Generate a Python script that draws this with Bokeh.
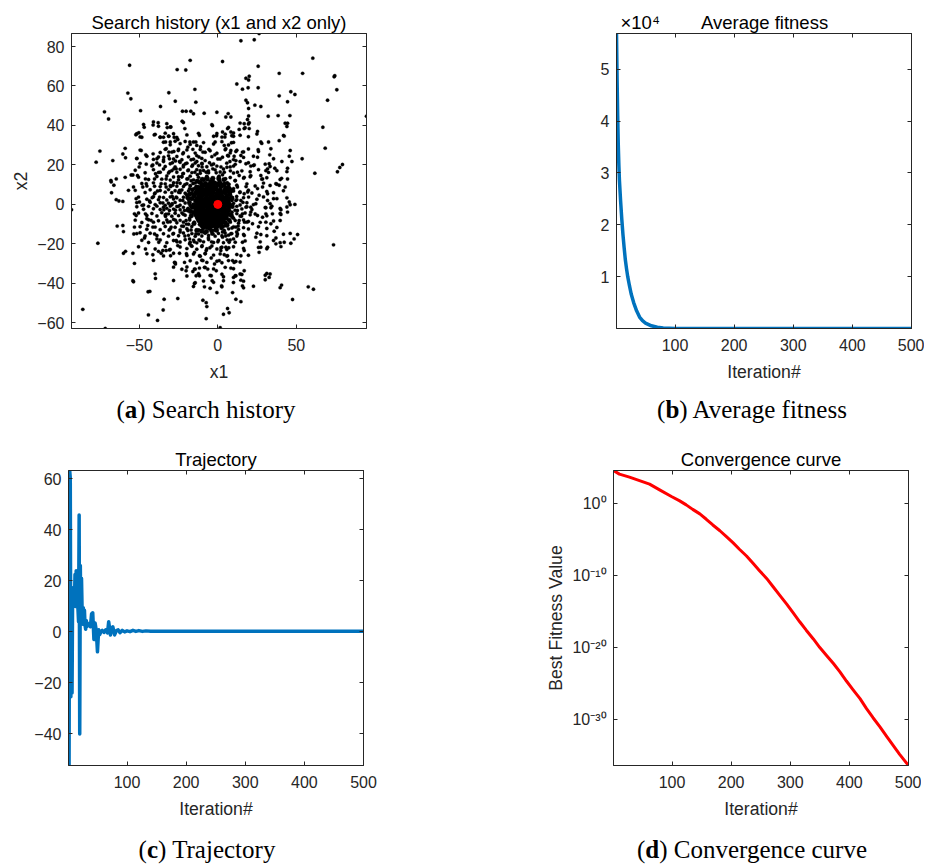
from bokeh.plotting import figure
from bokeh.models import Range1d, LinearAxis, LogAxis, FixedTicker, Div
from bokeh.layouts import column, row
from bokeh.embed import file_html
from bokeh.resources import INLINE

# ---------------- (a) Search history: sampled positions (x1, x2) ----------------
hist_upper_left = [
    (-56.2, 70.5), (-17.6, 73.0), (-25.9, 68.3), (-20.4, 68.1), (-57.3, 56.4), (-55.4, 53.5),
    (-31.2, 56.6), (-27.1, 52.3), (-14.6, 58.3), (-14.0, 51.8), (-72.2, 46.9), (-69.6, 43.3),
    (-49.2, 47.5), (-36.5, 49.6), (-22.5, 47.2), (-20.2, 47.2), (-17.2, 47.2), (-15.5, 45.9),
    (-8.7, 46.2), (-0.6, 46.7), (-38.0, 41.4), (-41.2, 40.2), (-46.9, 39.1), (-22.7, 42.1),
    (-21.0, 38.4), (-32.2, 38.9), (-29.9, 39.2), (-3.4, 39.9), (-50.3, 36.3), (-52.2, 35.3),
    (-48.4, 34.0), (-40.5, 35.2), (-36.7, 34.1), (-34.6, 34.0), (-31.2, 34.5), (-27.8, 34.0),
    (-25.5, 32.9), (-17.8, 31.6), (-14.0, 31.6), (-11.7, 35.0), (-0.8, 34.8), (-33.3, 31.6),
    (-30.3, 31.6), (-1.7, 31.6), (-59.0, 28.4), (-48.8, 27.3), (-75.1, 27.0), (-60.5, 25.5),
    (-58.8, 23.6), (-51.6, 23.3), (-45.9, 25.1), (-41.2, 25.6), (-38.8, 23.1), (-34.4, 23.9),
    (-32.9, 28.2), (-31.2, 26.5), (-28.0, 26.8), (-25.2, 27.3), (-22.3, 25.6), (-19.1, 29.0),
    (-15.9, 27.9), (-11.0, 29.2), (-9.5, 26.5), (-5.7, 27.9), (-1.9, 25.1), (-77.5, 21.4),
    (-66.9, 22.2), (-50.1, 19.0), (-45.6, 20.4), (-41.4, 20.0), (-37.1, 20.0), (-34.6, 21.7),
    (-30.8, 23.1), (-28.9, 21.1), (-24.4, 21.7), (-20.6, 20.6), (-17.0, 22.6), (-13.4, 21.7),
    (-10.0, 20.6), (-5.3, 21.1), (-68.1, 12.1), (-64.7, 12.9), (-59.0, 13.7), (-55.2, 14.9),
    (-54.1, 14.9), (-51.2, 14.6), (-46.1, 12.9), (-39.7, 15.5), (-36.7, 16.3), (-40.3, 12.9),
    (-32.9, 12.9), (-30.8, 16.6), (-26.5, 18.0), (-22.3, 15.5), (-19.1, 17.1), (-14.6, 16.3),
    (-11.2, 17.1), (-7.4, 16.3), (-3.2, 18.0),
]
hist_upper_right = [
    (26.3, 86.6), (14.7, 82.9), (23.2, 83.4), (3.0, 72.4), (25.7, 70.0), (60.5, 74.1),
    (39.1, 66.4), (54.0, 66.4), (74.1, 64.7), (74.5, 65.2), (75.8, 58.1), (17.9, 63.9),
    (20.0, 64.9), (19.6, 63.0), (12.1, 61.0), (15.7, 58.4), (19.3, 59.1), (25.7, 59.1),
    (39.1, 55.0), (46.5, 57.1), (49.1, 55.7), (69.9, 52.8), (17.9, 52.8), (18.9, 51.5),
    (44.4, 52.0), (23.6, 50.3), (27.4, 49.6), (19.6, 48.6), (5.1, 44.3), (6.6, 46.0),
    (8.3, 44.3), (19.6, 44.8), (32.1, 44.7), (38.4, 45.0), (45.9, 45.0), (18.9, 43.0),
    (16.8, 40.9), (20.0, 41.4), (42.9, 41.1), (44.4, 41.1), (66.9, 39.1), (94.7, 44.7),
    (16.8, 38.4), (20.0, 38.4), (13.6, 38.0), (6.2, 38.4), (3.0, 36.7), (8.3, 36.7),
    (10.0, 34.5), (4.5, 34.1), (25.3, 37.0), (42.3, 34.6), (39.1, 32.3), (27.4, 31.6),
    (8.7, 31.2), (4.1, 29.9), (68.4, 28.5), (33.8, 28.2), (25.7, 27.7), (5.1, 28.2),
    (8.3, 27.3), (11.5, 26.8), (15.7, 26.5), (6.2, 24.8), (3.0, 23.9), (10.4, 24.4),
    (14.7, 24.8), (25.3, 23.9), (45.5, 24.4), (53.7, 23.1), (33.1, 25.1), (40.8, 21.7),
    (47.2, 21.7), (32.7, 20.6), (7.7, 21.7), (11.5, 22.2), (14.2, 21.7), (17.9, 20.6),
    (21.0, 19.4), (23.2, 20.0), (10.0, 19.4), (5.8, 18.8), (79.4, 20.2), (77.7, 18.7),
    (76.2, 16.5), (61.8, 15.8), (44.4, 18.3), (31.7, 18.0), (30.6, 17.1), (36.3, 18.3),
    (40.6, 13.2), (44.4, 12.9), (27.4, 14.6), (28.5, 12.9), (21.0, 14.6), (16.8, 13.7),
    (13.6, 14.6), (12.5, 16.3), (4.1, 16.3), (0.9, 14.3),
]
hist_lower_left = [
    (-93.2, -2.7), (-86.0, -53.2), (-76.4, -19.7), (-71.7, -62.9), (-67.9, 11.4), (-66.2, 9.7),
    (-67.7, 5.9), (-64.7, 2.4), (-63.0, 1.7), (-60.5, 1.5), (-64.1, -11.0), (-60.5, -10.7),
    (-60.1, -13.8), (-60.1, -24.8), (-58.8, -23.8), (-54.1, -24.8), (-53.1, -29.9), (-54.1, -38.7),
    (-53.7, -39.2), (-39.7, -37.5), (-44.4, -44.3), (-43.3, -44.1), (-44.2, -56.0), (-38.4, -58.8),
    (-34.2, -48.1), (-34.8, -53.5), (-25.5, -47.7), (-56.9, 7.1), (-53.7, 8.8), (-52.0, 2.9),
    (-49.9, 1.2), (-48.2, -0.5), (-53.1, -4.8), (-52.0, -5.6), (-53.1, -11.5), (-53.5, -15.0),
    (-49.5, -14.4), (-46.7, -17.0), (-46.1, -22.6), (-41.4, -25.5), (-37.8, -23.8), (-36.1, -24.8),
    (-35.0, -23.4), (-32.9, -23.4), (-30.8, -23.1), (-30.1, -26.0), (-27.6, -29.4), (-27.0, -30.2),
    (-24.4, -24.8), (-21.2, -29.4), (-20.2, -33.6), (-15.9, -34.0), (-14.9, -32.8), (-11.7, -32.3),
    (-13.8, -36.2), (-11.7, -36.2), (-8.5, -31.9), (-6.4, -32.8), (-4.2, -36.2), (-3.6, -38.7),
    (-14.9, -40.1), (-8.5, -41.8), (-0.6, -44.7), (-9.5, -48.6), (-7.4, -49.8), (-7.0, -51.8),
    (-7.4, -57.9), (-46.1, -4.8), (-45.2, -7.3), (-44.6, -10.7), (-42.5, -8.1), (-41.4, -11.5),
    (-40.3, -15.0), (-38.8, -17.5), (-37.6, -19.2), (-43.5, 1.7), (-41.8, 3.4), (-40.3, 5.4),
    (-38.4, 6.8), (-37.1, 3.7), (-35.0, 0.7), (-34.4, -2.7), (-33.3, -6.1), (-31.8, -9.0),
    (-29.7, -11.5), (-28.6, -15.0), (-26.5, -18.3), (-25.5, -20.9), (-30.8, -3.1), (-29.1, 0.3),
    (-26.5, 3.7), (-24.4, 7.1), (-22.3, 2.0), (-21.2, -3.1), (-20.2, -8.2), (-19.1, -13.2),
    (-18.0, -17.5), (-17.0, -20.9), (-14.9, -24.3), (-11.7, -26.0), (-9.5, -28.5), (-7.4, -23.4),
    (-4.2, -27.2), (-2.1, -30.2), (-1.0, -33.6), (-47.8, 8.8), (-45.6, 10.5), (-40.3, 9.2),
    (-36.1, 10.5), (-32.9, 8.8), (-28.6, 9.7),
]
hist_lower_right = [
    (73.7, -20.5), (57.6, -41.8), (60.9, -43.0), (47.6, -48.2), (40.6, -40.9), (31.2, -35.0),
    (30.2, -38.2), (32.7, -37.0), (45.5, 1.2), (49.1, 0.0), (50.8, -15.3), (48.6, -17.5),
    (46.5, -19.7), (42.3, -19.2), (40.2, -21.4), (37.0, -20.0), (37.0, -17.0), (35.9, -13.6),
    (31.7, -21.7), (27.4, -21.7), (26.3, -24.3), (24.2, -16.6), (27.4, -15.3), (30.6, -9.0),
    (33.8, -9.8), (34.8, -4.8), (30.6, -4.8), (30.6, -1.7), (33.8, -1.7), (40.2, -2.7),
    (40.2, -5.1), (39.7, -8.2), (44.4, -3.9), (37.6, 2.9), (42.9, 8.8), (39.1, 9.7),
    (37.0, 10.5), (31.7, 5.4), (28.5, 8.8), (25.3, 8.0), (21.7, 5.8), (19.6, 3.7),
    (21.0, -1.4), (25.3, -5.6), (22.1, -9.8), (18.5, -9.0), (16.8, -15.8), (15.7, -19.2),
    (16.8, -23.4), (14.7, -26.0), (16.8, -33.6), (14.2, -35.3), (11.5, -36.2), (10.0, -37.0),
    (14.7, -38.4), (15.7, -41.3), (11.5, -28.9), (10.4, -29.4), (9.4, -28.5), (8.3, -32.3),
    (3.6, -36.7), (2.4, -41.3), (9.4, -44.7), (11.5, -48.1), (14.7, -49.3), (6.2, -52.8),
    (7.2, -54.9), (3.6, -55.7), (1.5, -62.5), (8.3, -14.9), (10.0, -17.5), (7.2, -19.2),
    (5.1, -21.7), (1.9, -23.4), (4.1, -25.5), (0.9, -28.5), (6.2, -26.0), (12.5, -15.0),
    (11.5, -11.5), (13.6, -8.2), (15.7, -4.8), (17.9, -1.4), (12.5, -3.1), (9.4, -6.5),
    (14.7, 2.0), (16.8, 5.4), (12.5, 8.8), (19.0, 6.3), (26.3, 4.6), (11.5, 2.0),
    (8.3, -0.5), (7.2, -4.8), (6.2, -9.9), (4.1, -13.2), (3.0, -16.6), (28.5, -6.5),
    (31.7, 2.0), (24.2, 0.3), (21.0, -3.9),
]
hist_band_upper = [
    (-47.3, 40.5), (-41.0, 41.8), (-37.8, 39.6), (-32.5, 40.9), (-30.3, 39.2), (-21.9, 41.5),
    (-3.8, 40.4), (6.8, 39.0), (14.2, 41.2), (17.4, 38.8), (19.5, 40.7), (44.0, 39.5),
    (-51.6, 35.8), (-49.5, 34.2), (-39.9, 35.5), (-36.7, 34.0), (-33.5, 36.1), (-31.4, 34.6),
    (-28.2, 35.8), (-26.1, 33.9), (-19.7, 35.2), (-12.3, 36.0), (-2.7, 34.5), (-0.6, 35.9),
    (2.6, 34.1), (4.7, 35.6), (8.9, 34.8), (10.0, 36.2), (14.2, 35.0), (19.5, 34.3),
    (24.9, 35.7), (41.8, 34.9),
    (-34.6, 31.5), (-30.3, 30.2), (-27.2, 32.0), (-24.0, 30.8), (-20.8, 31.9), (-17.6, 30.4),
    (-15.5, 31.6), (-13.4, 29.9), (-9.1, 31.3), (-2.7, 30.6), (2.6, 31.8), (6.8, 30.1),
    (10.0, 31.4), (28.0, 30.9), (32.3, 31.6),
    (-49.5, 27.5), (-36.7, 26.3), (-33.5, 27.9), (-29.3, 26.5), (-25.0, 28.0), (-21.9, 26.2),
    (-19.7, 27.6), (-14.4, 26.0), (-11.2, 27.8), (-8.1, 26.4), (-4.9, 27.2), (-0.6, 25.9),
    (4.7, 27.7), (7.9, 26.1), (12.1, 27.4), (16.4, 26.6), (19.5, 28.1), (25.9, 26.8), (46.1, 27.3),
    (-51.6, 23.2), (-45.2, 24.4), (-41.0, 22.8), (-37.8, 24.0), (-34.6, 22.5), (-31.4, 24.6),
    (-28.2, 23.0), (-26.1, 24.3), (-22.9, 22.6), (-18.7, 24.1), (-15.5, 22.9), (-13.4, 24.7),
    (-10.2, 23.3), (-8.1, 22.2), (-3.8, 24.2), (1.5, 23.0), (6.8, 24.5), (10.0, 22.7),
    (16.4, 23.8), (22.7, 24.4), (35.5, 23.1),
    (-49.5, 20.8), (-42.0, 19.5), (-38.8, 21.0), (-33.5, 19.2), (-30.3, 20.6), (-27.2, 19.0),
    (-24.0, 21.3), (-21.9, 19.8), (-19.7, 20.9), (-16.5, 19.3), (-14.4, 21.0), (-12.3, 19.6),
    (-10.2, 20.7), (-7.0, 19.1), (-2.7, 20.5), (-0.6, 19.4), (5.7, 20.9), (7.9, 19.0),
    (11.1, 20.3), (19.5, 21.1), (22.7, 19.7), (30.2, 20.4), (33.3, 19.2),
    (-52.6, 17.3), (-46.3, 16.0), (-41.0, 17.6), (-37.8, 16.2), (-34.6, 17.9), (-31.4, 15.9),
    (-29.3, 17.1), (-26.1, 16.3), (-24.0, 17.8), (-21.9, 15.7), (-18.7, 17.4), (-16.5, 16.1),
    (-13.4, 17.6), (-11.2, 15.8), (-9.1, 17.2), (-5.9, 16.0), (-1.7, 17.5), (1.5, 16.4),
    (3.6, 17.9), (10.0, 15.9), (15.3, 17.0), (20.6, 16.5), (25.9, 17.6), (32.3, 16.2),
    (37.6, 17.1), (44.0, 16.6),
    (-50.5, 13.8), (-44.1, 12.6), (-38.8, 14.1), (-35.7, 12.8), (-32.5, 14.4), (-30.3, 12.3),
    (-28.2, 13.9), (-25.0, 12.5), (-22.9, 14.0), (-19.7, 12.9), (-17.6, 14.3), (-15.5, 12.4),
    (-12.3, 13.7), (-9.1, 12.2), (-7.0, 14.2), (-3.8, 12.7), (0.4, 13.9), (3.6, 12.4),
    (7.9, 13.6), (11.1, 12.1), (16.4, 13.3), (20.6, 14.0), (28.0, 12.8), (31.2, 13.5), (39.7, 12.6),
    (-48.4, 10.6), (-45.2, 9.3), (-41.0, 10.9), (-36.7, 9.0), (-33.5, 10.4), (-30.3, 9.5),
    (-28.2, 11.0), (-26.1, 9.2), (-24.0, 10.7), (-21.9, 9.1), (-19.7, 10.5), (-17.6, 9.4),
    (-14.4, 10.8), (-12.3, 9.0), (-10.2, 10.3), (-8.1, 9.6), (-4.9, 10.9), (-2.7, 9.2),
    (0.4, 10.6), (3.6, 9.4), (6.8, 10.1), (12.1, 9.7), (18.5, 10.4), (23.8, 9.3), (29.1, 10.8),
    (33.3, 9.6), (37.6, 10.2),
    (-52.6, 7.1), (-46.3, 6.0), (-43.1, 7.4), (-39.9, 5.8), (-36.7, 7.0), (-33.5, 6.2),
    (-31.4, 7.5), (-29.3, 5.9), (-27.2, 6.9), (-25.0, 6.1), (-22.9, 7.3), (-20.8, 5.7),
    (-18.7, 6.8), (-16.5, 5.6), (-13.4, 7.2), (-11.2, 6.0), (-9.1, 7.4), (-5.9, 6.3),
    (-2.7, 7.0), (1.5, 6.1), (4.7, 7.3), (7.9, 5.9), (10.0, 6.8), (14.2, 6.3), (19.5, 7.2),
    (31.2, 6.5), (35.5, 5.9), (41.8, 6.9),
    (-50.5, 3.7), (-45.2, 2.6), (-41.0, 3.9), (-37.8, 2.4), (-34.6, 3.5), (-32.5, 2.2),
    (-30.3, 3.8), (-28.2, 2.7), (-26.1, 3.3), (-24.0, 2.1), (-21.9, 3.6), (-18.7, 2.5),
    (-15.5, 3.9), (5.7, 2.8), (8.9, 3.7), (12.1, 2.4), (16.4, 3.4), (24.9, 2.6), (29.1, 3.8),
    (35.5, 2.9), (44.0, 3.3),
    (-51.6, 0.9), (-47.3, -0.3), (-43.1, 1.1), (-39.9, -0.1), (-36.7, 0.8), (-33.5, -0.5),
    (-31.4, 0.6), (-29.3, -0.2), (-27.2, 1.0), (-24.0, -0.4), (-20.8, 0.7), (-17.6, -0.6),
    (10.0, 0.5), (14.2, -0.3), (18.5, 0.8), (22.7, -0.1), (33.3, 0.4), (46.1, -0.2),
]
hist_band_lower = [
    (-51.6, -1.2), (-47.3, -2.5), (-44.1, -1.0), (-41.0, -2.2), (-38.8, -0.9), (-36.7, -2.6),
    (-34.6, -1.4), (-32.5, -2.0), (-30.3, -0.8), (-28.2, -2.4), (-26.1, -1.1), (-24.0, -2.7),
    (-21.9, -1.5), (12.1, -1.0), (15.3, -2.3), (18.5, -1.2), (21.7, -2.6), (30.2, -1.6),
    (34.4, -0.9), (39.7, -2.1), (44.0, -1.3),
    (-50.5, -4.4), (-45.2, -5.6), (-42.0, -4.6), (-38.8, -5.9), (-35.7, -4.2), (-33.5, -5.4),
    (-31.4, -4.8), (-29.3, -6.0), (-27.2, -4.5), (-25.0, -5.7), (-22.9, -4.3), (-20.8, -5.5),
    (12.1, -4.7), (14.2, -5.9), (17.4, -4.4), (20.6, -5.3), (23.8, -4.9), (31.2, -5.8), (39.7, -4.6),
    (-52.6, -8.0), (-48.4, -9.2), (-44.1, -7.8), (-41.0, -9.0), (-37.8, -8.3), (-34.6, -9.4),
    (-32.5, -7.9), (-30.3, -8.8), (-28.2, -7.6), (-26.1, -9.3), (-24.0, -8.1), (-21.9, -9.0),
    (11.1, -8.2), (13.2, -9.5), (16.4, -7.9), (19.5, -8.7), (27.0, -9.1), (35.5, -8.4),
    (-49.5, -11.3), (-45.2, -12.6), (-39.9, -11.5), (-36.7, -12.8), (-33.5, -11.2), (-30.3, -12.4),
    (-27.2, -11.6), (-24.0, -12.9), (-21.9, -11.1), (-19.7, -12.3), (10.0, -11.4), (13.2, -12.7),
    (16.4, -11.8), (19.5, -12.5), (25.9, -11.3), (31.2, -12.2), (37.6, -11.7),
    (-51.6, -14.8), (-46.3, -16.0), (-43.1, -14.6), (-38.8, -15.8), (-34.6, -14.9), (-31.4, -16.1),
    (-28.2, -14.7), (-25.0, -15.9), (-21.9, -14.5), (-18.7, -15.7), (-16.5, -14.8), (-14.4, -16.2),
    (-12.3, -15.0), (-10.2, -16.0), (-8.1, -14.6), (-5.9, -15.8), (-3.8, -14.9), (-1.7, -16.1),
    (0.4, -14.7), (2.6, -15.9), (4.7, -14.5), (6.8, -15.6), (8.9, -14.8), (12.1, -16.0),
    (16.4, -15.2), (24.9, -14.6), (31.2, -15.9), (41.8, -15.1), (46.1, -14.7),
    (-48.4, -18.2), (-44.1, -19.3), (-36.7, -18.0), (-32.5, -19.4), (-28.2, -18.3), (-24.0, -19.1),
    (-20.8, -17.9), (-17.6, -19.2), (-15.5, -18.1), (-13.4, -19.5), (-11.2, -18.4), (-9.1, -19.0),
    (-5.9, -17.8), (-2.7, -19.3), (0.4, -18.2), (3.6, -19.4), (7.9, -18.0), (11.1, -19.2),
    (17.4, -18.5), (27.0, -19.0), (35.5, -18.3), (39.7, -19.4),
    (-50.5, -21.5), (-39.9, -22.6), (-33.5, -21.3), (-30.3, -22.8), (-24.0, -21.6), (-19.7, -22.4),
    (-16.5, -21.2), (-13.4, -22.7), (-10.2, -21.4), (-7.0, -22.5), (-3.8, -21.1), (-0.6, -22.6),
    (2.6, -21.7), (5.7, -22.9), (10.0, -21.5), (16.4, -22.3), (25.9, -21.8), (31.2, -22.5),
    (-45.2, -25.0), (-34.6, -26.1), (-28.2, -24.8), (-19.7, -25.9), (-15.5, -25.2), (-11.2, -26.3),
    (-8.1, -24.9), (-2.7, -25.7), (1.5, -25.1), (5.7, -26.2), (12.1, -25.4), (19.5, -25.8),
    (-41.0, -28.4), (-27.2, -29.5), (-17.6, -28.6), (-13.4, -29.7), (-10.2, -28.3), (-7.0, -29.4),
    (-0.6, -28.8), (2.6, -29.6), (6.8, -28.5), (14.2, -29.2),
    (-28.2, -31.8), (-22.9, -32.9), (-19.7, -31.7), (-14.4, -32.8), (-8.1, -32.0), (-2.7, -32.7),
    (4.7, -31.9), (10.0, -32.6),
    (-39.9, -35.2), (-19.7, -36.3), (-12.3, -35.1), (-4.9, -36.0), (2.6, -35.4), (11.1, -36.2),
    (15.3, -35.5), (30.2, -35.9), (33.3, -35.3),
    (-28.2, -38.6), (-14.4, -39.7), (-9.1, -38.8), (-2.7, -39.5), (3.6, -38.7), (10.0, -39.6),
    (16.4, -38.9),
    (-15.5, -41.6), (-4.9, -42.5), (2.6, -41.8), (16.4, -42.3), (22.7, -41.5), (39.7, -42.2),
]
hist_halo = [
    (-28, 18), (-25, 14), (-22, 19), (-19, 13), (-16, 20), (-13, 15), (-10, 19), (-7, 14),
    (-4, 20), (-1, 16), (2, 19), (5, 13), (8, 17), (11, 12), (-26, 11), (-21, 10), (-17, 12),
    (-11, 11), (-3, 12), (6, 11), (-24, 6), (-20, 5), (-18, 8), (-16, 3), (-19, -2), (-22, -5),
    (-18, -7), (-16, -4), (-20, -10), (-17, -13), (-14, -15), (-12, -18), (-9, -14), (-6, -17),
    (-3, -15), (0, -19), (3, -14), (6, -18), (9, -12), (-10, -21), (-5, -22), (2, -22),
    (-15, -19), (-24, -14), (-27, -8), (-25, -1), (10, 8), (12, 4), (9, 2), (11, -3), (10, -7),
    (13, -11), (8, -9), (-8, 13), (-2, -13), (4, -11), (-12, -13), (-7, -12), (1, 12), (-15, 8),
    (-15, -9), (7, 9), (9, -4), (-29, 4), (-27, -3), (-23, -11), (-21, -16), (-18, -20),
    (-8, -25), (-4, -19), (5, -16), (12, -14), (15, -6), (14, 6), (16, 1), (-23, 14), (-30, 9),
    (-33, -5), (-31, -13), (-26, -19), (3, 15), (-6, 17), (-12, 24), (0, 23), (7, -22),
    (-20, -25), (-27, 22), (18, 9), (17, -9),
    (-17.5, 9.5), (-15.8, 10.6), (-16.6, -11.2), (6.9, -12.4), (7.1, 10.2), (-18.6, -10.1),
    (-17.9, -7.9),
]
hist_core = [
    (-11.5, 11.2), (-7.8, 10.6), (-4.6, 11.4), (-1.9, 10.8), (1.2, 11.1), (4.3, 10.3),
    (-13.6, 8.7), (-10.2, 9.3), (-7.1, 8.4), (-4.3, 9.1), (-1.2, 8.6), (2.1, 9.2), (5.2, 8.3),
    (-12.8, 6.4), (-10.9, 7.1), (-8.2, 6.2), (-5.7, 7.0), (-3.1, 6.3), (0.3, 6.8), (3.2, 6.1), (6.1, 6.6),
    (-15.1, 4.3), (-12.2, 3.8), (-9.6, 4.6), (-7.2, 3.9), (-4.4, 4.4), (-2.1, 3.7), (0.6, 4.5), (2.9, 3.8), (5.6, 4.2),
    (-14.2, 1.8), (-11.6, 2.4), (-8.9, 1.6), (-6.6, 2.3), (-3.8, 1.7), (-1.6, 2.2), (1.2, 1.9), (3.6, 2.5), (6.3, 1.6),
    (-15.3, -0.2), (-12.4, 0.3), (-10.1, -0.4), (-7.6, 0.2), (-5.1, -0.3), (-2.6, 0.4), (2.7, -0.3), (5.1, 0.3), (7.6, -0.2),
    (-14.1, -2.2), (-11.4, -1.7), (-9.1, -2.4), (-6.4, -1.8), (-4.1, -2.3), (-1.4, -1.6), (1.1, -2.1), (3.4, -1.8), (5.9, -2.5),
    (-15.0, -4.1), (-12.1, -4.6), (-9.4, -3.8), (-7.1, -4.4), (-4.6, -3.9), (-2.2, -4.5), (0.4, -3.8), (3.1, -4.3), (5.4, -3.9),
    (-13.2, -6.3), (-10.6, -5.8), (-8.1, -6.4), (-5.4, -5.9), (-3.2, -6.2), (-0.6, -5.8), (2.1, -6.4), (4.6, -6.0),
    (-12.1, -8.2), (-9.2, -7.7), (-6.4, -8.4), (-3.9, -7.9), (-1.6, -8.3), (1.2, -7.8), (3.4, -8.4),
    (-11.2, -10.1), (-8.1, -9.7), (-5.2, -10.4), (-2.1, -9.8), (0.9, -10.2),
    (-9.1, -11.8), (-5.2, -12.1), (-1.2, -11.6),
    (-6.1, 5.4), (-8.8, -1.0), (-3.5, -0.8), (-1.0, 5.2), (-11.0, -6.9), (-6.9, -10.9),
    (0.0, -7.0), (-13.8, 5.9), (4.2, -5.1), (-4.9, 8.2),
    (-17.8, 5.2), (-18.1, 0.8), (-17.4, -3.6),
    (-16.2, 7.4), (-16.8, 2.9), (-16.4, -1.5), (-16.9, -5.8), (-15.2, -9.7), (-13.4, -13.2),
    (-10.3, -13.6), (-7.2, -13.8), (-3.9, -13.4), (-0.8, -13.1), (2.4, -11.9), (5.8, -10.6),
    (7.3, -8.1), (8.6, -5.6), (9.2, -1.1), (9.0, 3.1), (8.4, 6.9), (4.0, 12.6),
    (0.6, 13.0), (-3.2, 13.2), (-6.6, 12.9), (-9.9, 12.7), (-13.1, 11.8),
    (-19.2, 3.5), (-19.0, -2.9),
    (-9.6, 10.0), (-6.2, 9.8), (-3.0, 10.1), (0.0, 9.9), (3.0, 9.7),
    (-11.9, 7.7), (-9.3, 7.6), (-6.8, 7.9), (-4.2, 7.6), (-1.9, 7.7), (1.6, 7.6), (4.6, 7.4), (7.4, 7.8),
    (-14.3, 5.4), (-11.6, 5.2), (-9.0, 5.6), (-7.4, 5.5), (-3.7, 5.3), (-0.4, 5.7), (2.2, 5.1), (4.9, 5.8), (7.6, 4.9),
    (-13.1, 2.9), (-10.6, 3.1), (-8.1, 2.8), (-5.4, 3.0), (-3.0, 2.9), (-0.5, 3.2), (2.1, 2.9), (4.7, 3.1), (7.2, 2.9),
    (-13.0, 0.9), (-10.9, 1.1), (-8.4, 0.8), (-6.1, 1.2), (-3.4, 0.9), (-1.2, 1.1), (1.9, 0.8), (4.4, 1.2), (6.8, 0.9),
    (-15.6, -1.1), (-12.9, -0.9), (-10.6, -1.2), (-8.2, -0.8), (-5.7, -1.1), (-3.0, -0.9), (-0.3, -1.3), (2.1, -1.0), (4.6, -0.8), (7.1, -1.2),
    (-13.3, -3.1), (-10.8, -2.9), (-8.3, -3.2), (-5.6, -2.9), (-3.2, -3.1), (-0.6, -2.8), (2.2, -3.0), (4.6, -3.2), (7.0, -3.0),
    (-14.1, -5.2), (-11.2, -4.9), (-8.6, -5.1), (-6.0, -5.0), (-3.7, -5.1), (-1.2, -4.9), (1.4, -5.2), (3.9, -4.9), (6.6, -5.1),
    (-12.7, -7.1), (-9.9, -6.9), (-7.3, -7.2), (-4.7, -7.0), (-2.3, -7.1), (0.7, -6.9), (3.1, -7.2), (5.5, -7.0),
    (-10.6, -9.1), (-7.6, -8.9), (-5.0, -9.2), (-2.9, -9.0), (-0.1, -9.1), (2.4, -9.0), (4.6, -9.3),
    (-9.9, -11.0), (-6.7, -11.2), (-3.6, -10.9), (-0.5, -11.1), (2.2, -10.8),
]
best_pos_x = [0.0]
best_pos_y = [0.0]
hist_xticks = [-50, 0, 50]
hist_yticks = [-60, -40, -20, 0, 20, 40, 60, 80]

# ---------------- (b) Average fitness ----------------
avg_iter = [1, 2, 3, 4, 5, 6, 8, 10, 12, 14, 16, 18, 20, 23, 26, 30, 35, 40, 45, 50,
            60, 70, 80, 100, 150, 200, 300, 400, 500]
avg_fit = [56900, 48000, 41000, 35500, 31500, 28500, 24500, 21000, 18000, 15500, 13200,
           11500, 10000, 8200, 6600, 5000, 3400, 2200, 1500, 1050, 520, 240, 100, 15, 1, 0, 0, 0, 0]
avg_yticks = [10000, 20000, 30000, 40000, 50000]
avg_ylabels = ["1", "2", "3", "4", "5"]
avg_scale_text = "\u00d710\u2074"

# ---------------- (c) Trajectory of x1 ----------------
traj_iter = [1, 2, 3, 4, 5, 6, 7, 8, 9, 10, 11, 12, 13, 14, 15, 16, 17, 18, 19, 20, 21, 22,
             23, 24, 25, 26, 27, 28, 29, 30, 31, 32, 33, 34, 36, 38, 40, 42, 44, 46, 48, 50,
             52, 54, 56, 58, 61, 64, 67, 69, 72, 74, 76, 79, 82, 85, 88, 92, 96, 100, 105,
             110, 115, 120, 126, 132, 140, 500]
traj_val = [29.0, -52.4, 63.3, 60.5, -25.4, 17.0, -24.0, 16.0, 10.5, 17.5, 11.0, 22.5, 10.0,
            24.0, 13.0, 17.0, 9.0, 4.0, 45.8, -40.0, 26.0, 3.0, 21.0, 9.0, 3.0, 9.5, 4.0, 8.5,
            2.5, 1.0, 4.5, 2.0, 3.5, 2.5, 3.0, 2.0, 7.0, 7.5, -3.0, 3.5, 0.5, -7.8, 0.8, -1.0,
            0.2, 0.6, -0.2, 0.8, -0.4, 4.0, -1.2, 1.5, 2.0, -1.2, 0.5, 0.8, -0.3, 0.6, 0.0,
            0.4, 0.1, 0.6, 0.2, 0.5, 0.2, 0.4, 0.3, 0.3]
traj_yticks = [-40, -20, 0, 20, 40, 60]

# ---------------- (d) Convergence curve ----------------
conv_iter = [1, 11, 28, 45, 62, 79, 99, 113, 124, 135, 147, 158, 169, 181, 192, 203, 214,
             226, 237, 248, 260, 271, 282, 294, 305, 316, 327, 339, 350, 361, 373, 384, 395,
             406, 418, 429, 440, 452, 463, 474, 485, 500]
conv_best = [3.5e4, 1.1e4, 4.2e3, 1.4e3, 4.5e2, 7.2e1, 8.5e0, 2.1e0, 5.9e-1, 1.4e-1, 3.3e-2,
             5.9e-3, 9.5e-4, 1.5e-4, 2.3e-5, 3.3e-6, 4.0e-7, 4.7e-8, 4.5e-9, 4.3e-10, 3.6e-11,
             2.5e-12, 1.7e-13, 9.8e-15, 6.0e-16, 3.4e-17, 2.3e-18, 1.4e-19, 8.9e-21, 7.8e-22,
             5.4e-23, 3.7e-24, 2.0e-25, 1.3e-26, 7.1e-28, 2.9e-29, 1.6e-30, 8.1e-32, 4.1e-33,
             2.3e-34, 1.3e-35, 3.7e-37]
conv_yticks = [1e-30, 1e-20, 1e-10, 1.0]
conv_ylabels = ["10\u207b\u00b3\u2070", "10\u207b\u00b2\u2070", "10\u207b\u00b9\u2070", "10\u2070"]

iter_xticks = [100, 200, 300, 400, 500]

# ---------------- styling helpers ----------------
SANS = "Liberation Sans"
INK = "#262626"
BLUE = "#0072BD"


def style_axis(ax, ticks, show_labels=True):
    ax.ticker = FixedTicker(ticks=ticks)
    ax.axis_line_color = INK
    ax.axis_line_width = 1
    ax.major_tick_line_color = INK
    ax.major_tick_in = 4
    ax.major_tick_out = 0
    ax.minor_tick_line_color = None
    ax.minor_tick_in = 0
    ax.minor_tick_out = 0
    if show_labels:
        ax.major_label_text_font = SANS
        ax.major_label_text_font_size = "16px"
        ax.major_label_text_color = INK
        ax.axis_label_text_font = SANS
        ax.axis_label_text_font_size = "17.6px"
        ax.axis_label_text_font_style = "normal"
        ax.axis_label_text_color = INK
    else:
        ax.major_label_text_font_size = "1px"
        ax.major_label_text_color = None
        ax.major_label_standoff = 0


def make_fig(title, xr, yr, xticks, yticks, left, right, log=False):
    kw = {"y_axis_type": "log"} if log else {}
    p = figure(title=title, x_range=xr, y_range=yr, frame_width=295, frame_height=295,
               min_border_left=left, min_border_right=right, min_border_top=25,
               min_border_bottom=57, output_backend="svg", toolbar_location=None, **kw)
    p.xgrid.visible = False
    p.ygrid.visible = False
    p.background_fill_color = "white"
    p.border_fill_color = "white"
    p.outline_line_color = INK
    p.outline_line_width = 1
    p.outline_line_alpha = 1
    t = p.title
    t.text_font = SANS
    t.text_font_size = "18.5px"
    t.text_font_style = "normal"
    t.text_color = "#000000"
    t.align = "center"
    t.standoff = 2
    style_axis(p.below[0], xticks)
    p.below[0].major_label_standoff = 10
    p.below[0].axis_label_standoff = 8
    style_axis(p.left[0], yticks)
    p.left[0].major_label_standoff = 7
    p.left[0].axis_label_standoff = 3
    top_ax = LinearAxis()
    right_ax = LogAxis() if log else LinearAxis()
    style_axis(top_ax, xticks, show_labels=False)
    style_axis(right_ax, yticks, show_labels=False)
    p.add_layout(top_ax, "above")
    p.add_layout(right_ax, "right")
    return p


# ---------------- (a) ----------------
hist_outer = (hist_upper_left + hist_upper_right + hist_lower_left + hist_lower_right
              + hist_band_upper + hist_band_lower + hist_halo)
all_x = [pt[0] for pt in hist_outer + hist_core]
all_y = [pt[1] for pt in hist_outer + hist_core]
pa = make_fig("Search history (x1 and x2 only)", Range1d(min(all_x), max(all_x)),
              Range1d(min(all_y), max(all_y)), hist_xticks, hist_yticks, 60, 102)
pa.below[0].axis_label = "x1"
pa.left[0].axis_label = "x2"
pa.scatter([pt[0] for pt in hist_outer], [pt[1] for pt in hist_outer], size=3.4,
           marker="circle", fill_color="black", line_color="black", line_width=0.3)
pa.scatter([pt[0] for pt in hist_core], [pt[1] for pt in hist_core], size=4.8,
           marker="circle", fill_color="black", line_color="black", line_width=0.3)
pa.scatter(best_pos_x, best_pos_y, size=8, marker="circle", fill_color="#FF0000", line_color="#FF0000")

# ---------------- (b) ----------------
NBSP = "\u00a0"
pb = make_fig(avg_scale_text + NBSP * 8 + "Average fitness", Range1d(min(avg_iter), max(avg_iter)),
              Range1d(min(avg_fit), max(avg_fit)), iter_xticks, avg_yticks, 148, 13)
pb.title.align = "left"
pb.title.offset = 4
pb.below[0].axis_label = "Iteration#"
pb.left[0].major_label_overrides = {t: l for t, l in zip(avg_yticks, avg_ylabels)}
pb.line(avg_iter, avg_fit, line_color=BLUE, line_width=3.5, line_join="round")

# ---------------- (c) ----------------
pc = make_fig("Trajectory", Range1d(min(traj_iter), max(traj_iter)),
              Range1d(min(traj_val), max(traj_val)), iter_xticks, traj_yticks, 60, 102)
pc.below[0].axis_label = "Iteration#"
pc.line(traj_iter, traj_val, line_color=BLUE, line_width=3.5, line_join="round")

# ---------------- (d) ----------------
pd = make_fig("Convergence curve", Range1d(min(conv_iter), max(conv_iter)),
              Range1d(min(conv_best), max(conv_best)), iter_xticks, conv_yticks, 148, 13, log=True)
pd.below[0].axis_label = "Iteration#"
pd.left[0].axis_label = "Best Fitness Value"
pd.left[0].major_label_overrides = {t: l for t, l in zip(conv_yticks, conv_ylabels)}
pd.line(conv_iter, conv_best, line_color="#FF0000", line_width=3, line_join="round")


# ---------------- captions ----------------
def caption(letter, text, center, pad_top, height):
    html = ('<div style="margin-left:%dpx;width:300px;text-align:center;'
            'font-family:\'Liberation Serif\',serif;font-size:25px;line-height:25px;'
            'padding-top:%dpx;color:#000000;white-space:nowrap;">(<b>%s</b>) %s</div>'
            % (center - 150, pad_top, letter, text))
    return Div(text=html, width=457, height=height, margin=0)


da = caption("a", "Search history", 198, 12, 60)
db = caption("b", "Average fitness", 287, 12, 60)
dc = caption("c", "Trajectory", 199, 15, 42)
dd = caption("d", "Convergence curve", 287, 15, 42)

layout = column(row(pa, pb), row(da, db), row(pc, pd), row(dc, dd), margin=(8, 0, 0, 8))

open("out.html", "w").write(file_html(layout, INLINE))
